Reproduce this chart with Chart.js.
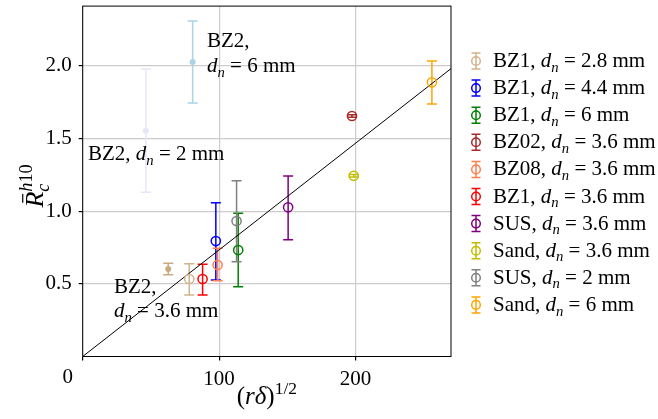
<!DOCTYPE html>
<html lang="en">

<head>
    <meta charset="UTF-8">
    <title>Rc vs (r delta)^1/2</title>
    <script src="https://cdn.jsdelivr.net/npm/chart.js"></script>
    <style>
        body { margin: 0; background: #fff; }
        #wrap { width: 658px; height: 419px; position: relative; }
    </style>
</head>

<body>
    <div id="wrap"><canvas id="grafica"></canvas></div>
    <script>
        // --- datos ---
        const materials = ['BZ1', 'BZ1', 'BZ1', 'BZ02', 'BZ08', 'BZ1', 'SUS', 'Sand', 'SUS', 'Sand'];
        const nozzleDiam = ['2.8', '4.4', '6', '3.6', '3.6', '3.6', '3.6', '3.6', '2', '6'];
        const xVals = [78.1, 97.6, 114, 197.4, 98.9, 87.9, 150.6, 198.7, 112.8, 256];
        const yVals = [0.533, 0.794, 0.732, 1.654, 0.629, 0.533, 1.026, 1.243, 0.932, 1.886];
        const yLow = [0.423, 0.526, 0.48, 1.646, 0.521, 0.423, 0.803, 1.235, 0.652, 1.737];
        const yHigh = [0.638, 1.058, 0.985, 1.662, 0.744, 0.634, 1.241, 1.251, 1.209, 2.032];
        const seriesColors = ['#d2b48c', '#0000ff', '#008000', '#a52a2a', '#ff7f50', '#ff0000', '#800080', '#bfbf00', '#808080', '#ffa500'];

        // BZ2 (puntos rellenos, sin leyenda)
        const bz2Diam = ['3.6', '6', '2'];
        const bz2X = [62.7, 80.6, 46.3];
        const bz2Y = [0.602, 2.025, 1.553];
        const bz2Low = [0.563, 1.744, 1.129];
        const bz2High = [0.641, 2.307, 1.977];
        const bz2Colors = ['#c9a982', '#a8d4e4', '#e6e6fa'];

        // recta de ajuste
        const fitX = [0, 270];
        const fitY = [0, 1.98];

        const xTicks = [0, 100, 200];
        const yTicks = [0.5, 1.0, 1.5, 2.0];

        const SERIF = "'Liberation Serif', 'Times New Roman', serif";
        const FS = 21;

        // texto con cursiva / subindice / superindice
        function richWidth(ctx, parts, size) {
            let w = 0;
            parts.forEach(p => {
                const s = (p.sub || p.sup) ? size * 0.7 : size;
                ctx.font = (p.it ? 'italic ' : '') + s + 'px ' + SERIF;
                w += ctx.measureText(p.t).width;
            });
            return w;
        }
        function drawRich(ctx, parts, x, y, size) {
            ctx.textAlign = 'left';
            ctx.textBaseline = 'alphabetic';
            parts.forEach(p => {
                const s = (p.sub || p.sup) ? size * 0.7 : size;
                ctx.font = (p.it ? 'italic ' : '') + s + 'px ' + SERIF;
                let dy = 0;
                if (p.sub) dy = size * 0.22;
                if (p.sup) dy = -size * 0.42;
                if (p.bar) {
                    const w = ctx.measureText(p.t).width;
                    ctx.save();
                    ctx.lineWidth = 1.2;
                    ctx.beginPath();
                    ctx.moveTo(x + w * 0.3, y - size * 0.78);
                    ctx.lineTo(x + w * 0.85, y - size * 0.78);
                    ctx.stroke();
                    ctx.restore();
                }
                ctx.fillText(p.t, x, y + dy);
                x += ctx.measureText(p.t).width;
            });
            return x;
        }
        function dnLabel(prefix, d) {
            return [{ t: prefix + ', ' }, { t: 'd', it: true }, { t: 'n', it: true, sub: true }, { t: ' = ' + d + ' mm' }];
        }

        const datasets = [];
        materials.forEach((m, i) => {
            datasets.push({
                label: m + ', dn = ' + nozzleDiam[i] + ' mm',
                data: [{ x: xVals[i], y: yVals[i] }],
                errLow: [yLow[i]], errHigh: [yHigh[i]],
                borderColor: seriesColors[i],
                backgroundColor: 'rgba(0,0,0,0)',
                pointRadius: 4.6, borderWidth: 1.5,
                inLegend: true
            });
        });
        bz2X.forEach((x, i) => {
            datasets.push({
                label: 'BZ2, dn = ' + bz2Diam[i] + ' mm',
                data: [{ x: x, y: bz2Y[i] }],
                errLow: [bz2Low[i]], errHigh: [bz2High[i]],
                borderColor: bz2Colors[i],
                backgroundColor: bz2Colors[i],
                pointRadius: 3, borderWidth: 0
            });
        });
        datasets.push({
            label: 'fit',
            type: 'line',
            data: fitX.map((x, i) => ({ x: x, y: fitY[i] })),
            borderColor: '#000', borderWidth: 1, pointRadius: 0, showLine: true
        });

        // barras de error
        const errorBars = {
            id: 'errorBars',
            beforeDatasetsDraw(chart) {
                const ctx = chart.ctx, ys = chart.scales.y, xs = chart.scales.x;
                chart.data.datasets.forEach(ds => {
                    if (!ds.errLow) return;
                    ds.data.forEach((p, j) => {
                        const px = xs.getPixelForValue(p.x);
                        const y1 = ys.getPixelForValue(ds.errLow[j]);
                        const y2 = ys.getPixelForValue(ds.errHigh[j]);
                        ctx.save();
                        ctx.strokeStyle = ds.borderColor;
                        ctx.lineWidth = 1.5;
                        ctx.beginPath();
                        ctx.moveTo(px, y1); ctx.lineTo(px, y2);
                        ctx.moveTo(px - 5, y1); ctx.lineTo(px + 5, y1);
                        ctx.moveTo(px - 5, y2); ctx.lineTo(px + 5, y2);
                        ctx.stroke();
                        ctx.restore();
                    });
                });
            }
        };

        // marco, textos, etiquetas de ejes y leyenda
        const decorations = {
            id: 'decorations',
            afterDraw(chart) {
                const ctx = chart.ctx, a = chart.chartArea, xs = chart.scales.x, ys = chart.scales.y;
                ctx.save();
                ctx.strokeStyle = '#000';
                ctx.lineWidth = 1;
                ctx.strokeRect(a.left, a.top, a.right - a.left, a.bottom - a.top);
                ctx.fillStyle = '#000';

                // "0" del eje x
                ctx.font = FS + 'px ' + SERIF;
                ctx.textAlign = 'center';
                ctx.textBaseline = 'alphabetic';
                ctx.fillText('0', xs.getPixelForValue(0) - 15, 383);

                // anotaciones BZ2
                drawRich(ctx, [{ t: 'BZ2,' }], 207, 47, FS);
                drawRich(ctx, [{ t: 'd', it: true }, { t: 'n', it: true, sub: true }, { t: ' = 6 mm' }], 207, 72, FS);
                drawRich(ctx, dnLabel('BZ2', '2'), 88, 160, FS);
                drawRich(ctx, [{ t: 'BZ2,' }], 114, 293, FS);
                drawRich(ctx, [{ t: 'd', it: true }, { t: 'n', it: true, sub: true }, { t: ' = 3.6 mm' }], 114, 317, FS);

                // titulo eje x
                const xl = [{ t: '(' }, { t: 'rδ', it: true }, { t: ')' }, { t: '1/2', sup: true }];
                const xw = richWidth(ctx, xl, 25);
                drawRich(ctx, xl, (a.left + a.right) / 2 - xw / 2, 404, 25);

                // titulo eje y (rotado)
                const rw = richWidth(ctx, [{ t: 'R', it: true }], 26);
                ctx.translate(43, 186);
                ctx.rotate(-Math.PI / 2);
                const totalW = rw + richWidth(ctx, [{ t: 'h10', sup: true }], 26);
                const x0 = -totalW / 2;
                drawRich(ctx, [{ t: 'R', it: true, bar: true }], x0, 0, 26);
                drawRich(ctx, [{ t: 'c', it: true, sub: true }], x0 + rw, 0, 26);
                drawRich(ctx, [{ t: 'h', it: true, sup: true }, { t: '10', sup: true }], x0 + rw, 0, 26);
                ctx.restore();

                // leyenda
                ctx.save();
                chart.data.datasets.filter(d => d.inLegend).forEach((ds, i) => {
                    const cy = 61 + i * 27.1, cx = 476;
                    ctx.strokeStyle = ds.borderColor;
                    ctx.lineWidth = 1.5;
                    ctx.beginPath();
                    ctx.moveTo(cx, cy - 8); ctx.lineTo(cx, cy + 8);
                    ctx.moveTo(cx - 4.5, cy - 8); ctx.lineTo(cx + 4.5, cy - 8);
                    ctx.moveTo(cx - 4.5, cy + 8); ctx.lineTo(cx + 4.5, cy + 8);
                    ctx.stroke();
                    ctx.beginPath();
                    ctx.arc(cx, cy, 4.3, 0, Math.PI * 2);
                    ctx.stroke();
                    ctx.fillStyle = '#000';
                    drawRich(ctx, dnLabel(materials[i], nozzleDiam[i]), 493, cy + 6, FS);
                });
                ctx.restore();
            }
        };

        new Chart(document.getElementById('grafica'), {
            type: 'scatter',
            data: { datasets: datasets },
            options: {
                responsive: true,
                maintainAspectRatio: false,
                animation: false,
                layout: { padding: { left: 0, top: 6, right: 207, bottom: 0 } },
                plugins: { legend: { display: false }, tooltip: { enabled: false } },
                scales: {
                    x: {
                        min: 0, max: 270,
                        afterFit: s => { s.height = 62.5; s.paddingLeft = 0; s.paddingRight = 0; },
                        afterBuildTicks: s => { s.ticks = xTicks.map(v => ({ value: v })); },
                        ticks: {
                            callback: v => v === 0 ? '' : String(v),
                            color: '#000', padding: 6, maxRotation: 0,
                            font: { family: SERIF, size: FS }
                        },
                        grid: { color: '#cccccc', lineWidth: 1.2, tickColor: '#000', tickLength: 4 },
                        border: { display: false }
                    },
                    y: {
                        min: 0, max: 2.41,
                        afterFit: s => { s.width = 82.7; s.paddingTop = 0; s.paddingBottom = 0; },
                        afterBuildTicks: s => { s.ticks = yTicks.map(v => ({ value: v })); },
                        ticks: {
                            callback: v => Number(v).toFixed(1),
                            color: '#000', padding: 7,
                            font: { family: SERIF, size: FS }
                        },
                        grid: { color: '#cccccc', lineWidth: 1.2, tickColor: '#000', tickLength: 4 },
                        border: { display: false }
                    }
                }
            },
            plugins: [errorBars, decorations]
        });
    </script>
</body>

</html>
